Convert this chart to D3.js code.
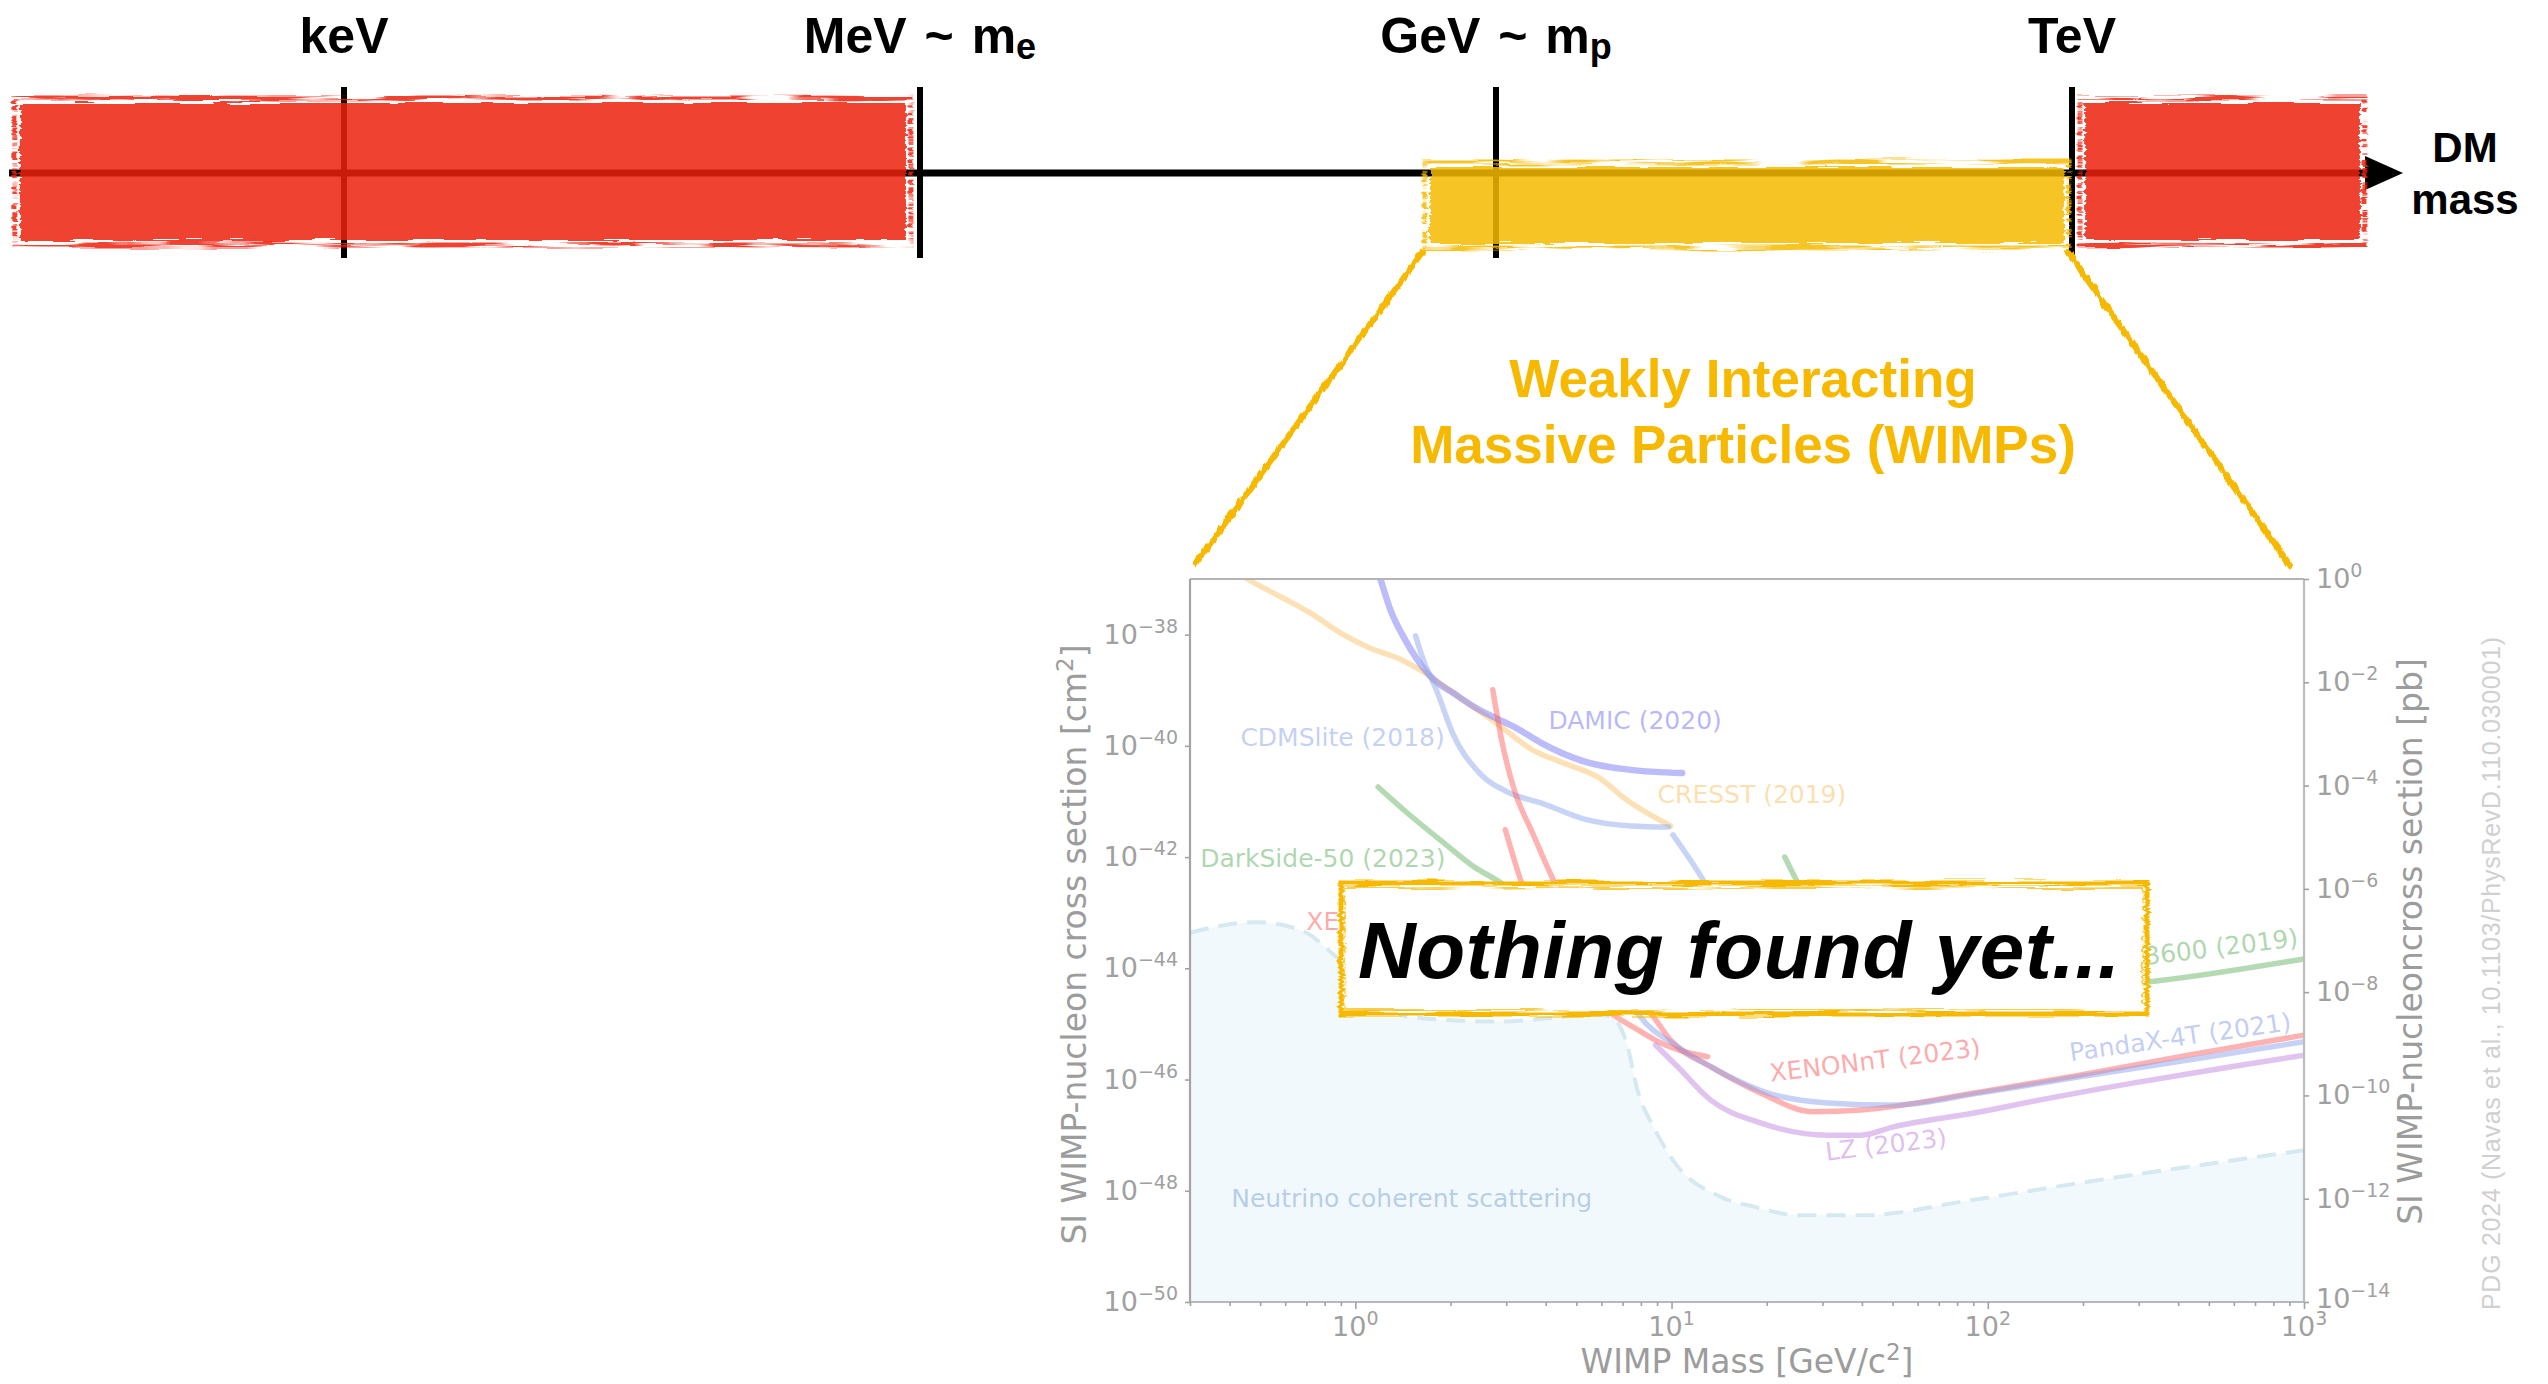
<!DOCTYPE html>
<html lang="en">
<head>
<meta charset="UTF-8">
<title>Dark matter mass range and WIMP limits</title>
<script src="https://d3js.org/d3.v7.min.js"></script>
<style>
    body { margin: 0; background: #fff; }
    svg { display: block; }
    .bold { font-family: "Liberation Sans", Arial, Helvetica, sans-serif; font-weight: bold; }
    .plain { font-family: "Liberation Sans", Arial, Helvetica, sans-serif; }
    .mpl { font-family: "DejaVu Sans", sans-serif; }
</style>
</head>
<body>
<svg id="fig" width="2548" height="1384"></svg>
<script>
// ---------- data: energy bar (values in eV) ----------
const energyTicks = [
    { label: "keV", sub: null, ev: 1e3 },
    { label: "MeV ~ m", sub: "e", ev: 1e6 },
    { label: "GeV ~ m", sub: "p", ev: 1e9 },
    { label: "TeV", sub: null, ev: 1e12 }
];
const axisSpan = [18, 3.4e13];
const excludedRanges = [[20.5, 8.45e5], [1.17e12, 3.16e13]];
const wimpRange = [4.53e8, 9.1e11];

// ---------- data: WIMP limits, [mass GeV, sigma cm^2] ----------
const massTicks = [1, 10, 100, 1000];
const massMinor = [0.3, 0.4, 0.5, 0.6, 0.7, 0.8, 0.9, 2, 3, 4, 5, 6, 7, 8, 9,
    20, 30, 40, 50, 60, 70, 80, 90, 200, 300, 400, 500, 600, 700, 800, 900];
const sigmaTicks = [-50, -48, -46, -44, -42, -40, -38];
const pbTicks = [-14, -12, -10, -8, -6, -4, -2, 0];

const cresst = [[0.40, 1.58e-37], [0.458, 9.8e-38], [0.58, 4.8e-38], [0.72, 2.45e-38], [0.916, 1.0e-38],
    [1.11, 5.75e-39], [1.36, 3.8e-39], [1.64, 2.14e-39], [2.15, 7.24e-40], [2.79, 2.57e-40],
    [3.63, 8.5e-41], [4.55, 4.9e-41], [5.92, 2.63e-41], [7.2, 1.07e-41], [9.93, 3.63e-42]];
const damic = [[1.17, 1.58e-37], [1.2, 1.0e-37], [1.29, 2.82e-38], [1.42, 9.1e-39], [1.57, 3.55e-39],
    [1.77, 1.55e-39], [2.04, 8.9e-40], [2.38, 5.0e-40], [3.30, 1.95e-40], [3.88, 1.12e-40],
    [5.38, 5.1e-41], [7.42, 3.7e-41], [10.8, 3.24e-41]];
const cdmslite = [[1.55, 9.5e-39], [1.64, 3.55e-39], [1.82, 8.9e-40], [2.03, 1.7e-40], [2.47, 3.24e-41],
    [3.09, 1.41e-41], [3.88, 9.3e-42], [5.38, 4.7e-42], [7.42, 3.63e-42], [9.78, 3.47e-42]];
const supercdms = [[10.1, 2.5e-42], [12.7, 3.55e-43], [15, 6.3e-44], [18, 1.58e-44]];
const darkside = [[1.18, 1.82e-41], [1.46, 6.2e-42], [1.90, 1.82e-42], [2.38, 6.6e-43], [2.79, 3.9e-43],
    [3.5, 1.78e-43], [5, 6.3e-44], [7, 3.16e-44]];
const xenon1t = [[2.98, 3.1e-42], [3.35, 3.55e-43], [4.2, 2.5e-44], [5.3, 3.98e-45], [6.41, 1.58e-45],
    [7.8, 7.9e-46], [9.23, 4.57e-46], [11, 3.16e-46], [13.0, 2.57e-46]];
const xenonnt = [[2.72, 1.02e-39], [2.9, 1.29e-40], [3.18, 1.62e-41], [3.63, 2.75e-42], [4.26, 3.55e-43],
    [5.5, 3.16e-44], [7, 5.0e-45], [8.58, 1.58e-45], [9.93, 5.1e-46], [13.3, 1.7e-46], [19.1, 5.75e-47],
    [28.1, 2.63e-47], [39.6, 2.82e-47], [95, 6.0e-47], [195, 1.2e-46], [430, 2.75e-46], [1000, 6.3e-46]];
const pandax = [[5.2, 2.5e-43], [6.3, 1.58e-44], [7.8, 1.58e-45], [10.45, 3.9e-46], [13.3, 1.7e-46],
    [20.1, 5.75e-47], [31.2, 3.8e-47], [50.4, 3.47e-47], [95, 5.75e-47], [195, 1.12e-46],
    [430, 2.24e-46], [1000, 4.8e-46]];
const lz = [[8.9, 4.17e-46], [10.45, 1.7e-46], [13.3, 4.27e-47], [19.1, 1.66e-47], [31.2, 1.0e-47],
    [39.6, 1.0e-47], [50.4, 1.41e-47], [95, 2.63e-47], [131, 3.8e-47], [290, 8.7e-47],
    [637, 1.82e-46], [1000, 2.75e-46]];
const deap = [[22.8, 1.0e-42], [25.0, 3.55e-43], [30, 6.3e-44], [40, 1.58e-44], [60, 6.3e-45],
    [100, 3.98e-45], [200, 4.5e-45], [326, 5.75e-45], [1000, 1.48e-44]];
const neutrinoFloor = [[0.30, 4.37e-44], [0.483, 6.76e-44], [0.67, 4.9e-44], [0.87, 1.62e-44],
    [1.12, 4.07e-45], [1.46, 1.35e-45], [2.79, 1.1e-45], [5.92, 1.45e-45], [6.41, 1.35e-45],
    [7.26, 3.9e-46], [7.8, 6.46e-47], [8.77, 1.41e-47], [10.1, 3.55e-48], [14.3, 7.76e-49],
    [18.3, 5.13e-49], [25.1, 3.63e-49], [40.2, 3.63e-49], [88.4, 6.76e-49], [195, 1.38e-48],
    [430, 2.69e-48], [1000, 5.37e-48]];

// label anchor points in data units
const curveLabels = [
    { text: "DAMIC (2020)", key: "damic", at: [4.08, 2.0e-40], rot: 0, anchor: "start" },
    { text: "CDMSlite (2018)", key: "cdmslite", at: [0.433, 1.0e-40], rot: 0, anchor: "start" },
    { text: "CRESST (2019)", key: "cresst", at: [9.03, 9.4e-42], rot: 0, anchor: "start" },
    { text: "DarkSide-50 (2023)", key: "darkside", at: [0.323, 6.6e-43], rot: 0, anchor: "start" },
    { text: "XENON1T (2019)", key: "xenon1t", at: [0.70, 4.9e-44], rot: 0, anchor: "start" },
    { text: "XENONnT (2023)", key: "xenonnt", at: [20.6, 9.1e-47], rot: -7, anchor: "start" },
    { text: "PandaX-4T (2021)", key: "pandax", at: [183, 2.14e-46], rot: -8, anchor: "start" },
    { text: "LZ (2023)", key: "lz", at: [30.9, 3.47e-48], rot: -7, anchor: "start" },
    { text: "DEAP-3600 (2019)", key: "deap", at: [964, 2.5e-44], rot: -7, anchor: "end" },
    { text: "Neutrino coherent scattering", key: "nu", at: [0.405, 5.1e-49], rot: 0, anchor: "start" }
];

// ---------- styles ----------
const series = { cresst, damic, cdmslite, supercdms, darkside, xenon1t, xenonnt, pandax, lz, deap };
const styles = {
    cresst:    { color: "#fbbd5e", alpha: 0.45, width: 5.5 },
    damic:     { color: "#7a7af5", alpha: 0.5, width: 6.5 },
    cdmslite:  { color: "#91a9eb", alpha: 0.5, width: 5.5 },
    supercdms: { color: "#91a9eb", alpha: 0.5, width: 5.5 },
    darkside:  { color: "#69b569", alpha: 0.5, width: 5.5 },
    xenon1t:   { color: "#ff5555", alpha: 0.45, width: 5.5 },
    xenonnt:   { color: "#ff5555", alpha: 0.45, width: 5.5 },
    pandax:    { color: "#8fa3ec", alpha: 0.5, width: 5.5 },
    lz:        { color: "#c387e1", alpha: 0.5, width: 5.5 },
    deap:      { color: "#69b569", alpha: 0.5, width: 5.5 },
    nu:        { color: "#7ea3d2", alpha: 0.5 }
};
const RED = "rgb(238,35,16)", YELLOW = "rgb(246,186,2)", GOLD = "#f7b900";
const TICK_GREY = "#a2a2a2";

const svg = d3.select("#fig");
const defs = svg.append("defs");

// rough brush edges
const rough = defs.append("filter").attr("id", "rough")
    .attr("x", "-5%").attr("y", "-20%").attr("width", "110%").attr("height", "140%");
rough.append("feTurbulence").attr("type", "fractalNoise").attr("baseFrequency", "0.02 0.35")
    .attr("numOctaves", 2).attr("seed", 4).attr("result", "n");
rough.append("feDisplacementMap").attr("in", "SourceGraphic").attr("in2", "n").attr("scale", 7)
    .attr("xChannelSelector", "R").attr("yChannelSelector", "G");

const brush = defs.append("filter").attr("id", "brush")
    .attr("x", "-5%").attr("y", "-20%").attr("width", "110%").attr("height", "140%");
brush.append("feTurbulence").attr("type", "fractalNoise").attr("baseFrequency", "0.012 0.25")
    .attr("numOctaves", 2).attr("seed", 9).attr("result", "t");
brush.append("feColorMatrix").attr("in", "t").attr("type", "matrix")
    .attr("values", "0 0 0 0 0  0 0 0 0 0  0 0 0 0 0  7 0 0 0 -2.8").attr("result", "m");
brush.append("feComposite").attr("in", "SourceGraphic").attr("in2", "m").attr("operator", "in").attr("result", "c");
brush.append("feDisplacementMap").attr("in", "c").attr("in2", "t").attr("scale", 6)
    .attr("xChannelSelector", "R").attr("yChannelSelector", "G");

const scratch = defs.append("filter").attr("id", "scratch")
    .attr("x", "-20%").attr("y", "-5%").attr("width", "140%").attr("height", "110%");
scratch.append("feTurbulence").attr("type", "fractalNoise").attr("baseFrequency", "0.25 0.04")
    .attr("numOctaves", 2).attr("seed", 2).attr("result", "t");
scratch.append("feDisplacementMap").attr("in", "SourceGraphic").attr("in2", "t").attr("scale", 5)
    .attr("xChannelSelector", "R").attr("yChannelSelector", "G");

// ---------- top: DM mass axis ----------
const eScale = d3.scaleLog().domain([1e3, 1e12]).range([344, 2072]);
const barY = 173;

const bar = svg.append("g");
bar.append("line")
    .attr("x1", eScale(axisSpan[0])).attr("x2", eScale(axisSpan[1]))
    .attr("y1", barY).attr("y2", barY)
    .attr("stroke", "#000").attr("stroke-width", 7);
const tipX = eScale(axisSpan[1]) + 37;
bar.append("path")
    .attr("d", `M${eScale(axisSpan[1]) - 1},${barY - 17}L${tipX},${barY}L${eScale(axisSpan[1]) - 1},${barY + 17}Z`)
    .attr("fill", "#000");
bar.selectAll("line.tick").data(energyTicks).enter().append("line")
    .attr("class", "tick")
    .attr("x1", d => eScale(d.ev)).attr("x2", d => eScale(d.ev))
    .attr("y1", 87).attr("y2", 258)
    .attr("stroke", "#000").attr("stroke-width", 6);

function brushBox(g, x0, x1, y0, y1, color) {
    g.append("rect")
        .attr("x", x0 - 5).attr("y", y0 - 5).attr("width", x1 - x0 + 10).attr("height", y1 - y0 + 10)
        .attr("fill", "none").attr("stroke", color).attr("stroke-width", 5)
        .attr("opacity", 0.85).attr("filter", "url(#brush)");
    g.append("rect")
        .attr("x", x0).attr("y", y0).attr("width", x1 - x0).attr("height", y1 - y0)
        .attr("fill", color).attr("opacity", 0.85).attr("filter", "url(#rough)");
}
excludedRanges.forEach(r => brushBox(bar, eScale(r[0]), eScale(r[1]), 103, 240, RED));
brushBox(bar, eScale(wimpRange[0]), eScale(wimpRange[1]), 167, 243, YELLOW);

const tl = bar.selectAll("text.elabel").data(energyTicks).enter().append("text")
    .attr("class", "elabel bold")
    .attr("x", d => eScale(d.ev)).attr("y", 53)
    .attr("text-anchor", "middle").attr("font-size", 50).attr("word-spacing", 4).attr("fill", "#000");
tl.append("tspan").text(d => d.label);
tl.filter(d => d.sub).append("tspan").attr("font-size", 36).attr("dy", 6).text(d => d.sub);

bar.append("text").attr("class", "bold").attr("x", 2465).attr("y", 162)
    .attr("text-anchor", "middle").attr("font-size", 42).text("DM");
bar.append("text").attr("class", "bold").attr("x", 2465).attr("y", 214)
    .attr("text-anchor", "middle").attr("font-size", 42).text("mass");

// ---------- WIMP chart ----------
const plot = { left: 1190, right: 2304, top: 579, bottom: 1302 };
const x = d3.scaleLog().domain([0.3, 1000]).range([plot.left, plot.right]);
const y = d3.scaleLog().domain([1e-50, 1e-37]).range([plot.bottom, plot.top]);
const yPb = d3.scaleLog().domain([1e-14, 1]).range([plot.bottom, plot.top]);

// zoom lines from the WIMP band down to the chart
const zoomLines = [
    [[eScale(wimpRange[0]) - 6, 250], [plot.left + 4, plot.top - 13]],
    [[eScale(wimpRange[1]) + 2, 250], [plot.right - 12, plot.top - 11]]
];
svg.append("g").selectAll("path").data(zoomLines).enter().append("path")
    .attr("d", d => d3.line()(d))
    .attr("stroke", GOLD).attr("stroke-width", 6).attr("fill", "none")
    .attr("filter", "url(#scratch)");

const wimpText = svg.append("text").attr("class", "bold")
    .attr("text-anchor", "middle").attr("font-size", 53).attr("fill", GOLD);
wimpText.append("tspan").attr("x", 1743).attr("y", 397).text("Weakly Interacting");
wimpText.append("tspan").attr("x", 1743).attr("y", 463).text("Massive Particles (WIMPs)");

defs.append("clipPath").attr("id", "plotclip").append("rect")
    .attr("x", plot.left).attr("y", plot.top)
    .attr("width", plot.right - plot.left).attr("height", plot.bottom - plot.top);

const chart = svg.append("g");
const inner = chart.append("g").attr("clip-path", "url(#plotclip)");

// neutrino fog
inner.append("path")
    .datum(neutrinoFloor)
    .attr("d", d3.area().x(d => x(d[0])).y0(plot.bottom).y1(d => y(d[1])).curve(d3.curveMonotoneX))
    .attr("fill", "#f1f9fc");
inner.append("path")
    .datum(neutrinoFloor)
    .attr("d", d3.line().x(d => x(d[0])).y(d => y(d[1])).curve(d3.curveMonotoneX))
    .attr("fill", "none").attr("stroke", "#d6e9f1").attr("stroke-width", 4)
    .attr("stroke-dasharray", "19,10");

const line = d3.line().x(d => x(d[0])).y(d => y(d[1])).curve(d3.curveMonotoneX);
Object.keys(series).forEach(k => {
    inner.append("path").datum(series[k])
        .attr("d", line)
        .attr("fill", "none")
        .attr("stroke", styles[k].color)
        .attr("stroke-opacity", styles[k].alpha)
        .attr("stroke-width", styles[k].width)
        .attr("stroke-linecap", "round")
        .attr("stroke-linejoin", "round");
});

chart.append("g").selectAll("text").data(curveLabels).enter().append("text")
    .attr("class", "mpl")
    .attr("transform", d => `translate(${x(d.at[0])},${y(d.at[1])}) rotate(${d.rot})`)
    .attr("text-anchor", d => d.anchor)
    .attr("font-size", 25)
    .attr("fill", d => styles[d.key].color)
    .attr("fill-opacity", d => d.key === "nu" ? 0.5 : styles[d.key].alpha + 0.05)
    .text(d => d.text);

// spines
const spines = [
    [plot.left, plot.top, plot.right, plot.top, "#b4b4b4"],
    [plot.right, plot.top, plot.right, plot.bottom, "#bdbdbd"],
    [plot.left, plot.bottom, plot.right, plot.bottom, "#b8b8b8"],
    [plot.left, plot.top, plot.left, plot.bottom, "#a4a4a4"]
];
chart.append("g").selectAll("line").data(spines).enter().append("line")
    .attr("x1", d => d[0]).attr("y1", d => d[1]).attr("x2", d => d[2]).attr("y2", d => d[3])
    .attr("stroke", d => d[4]).attr("stroke-width", 2.2);

function styleAxis(g) {
    g.select(".domain").remove();
    g.selectAll(".tick line").attr("stroke", TICK_GREY).attr("stroke-width", 1.6);
}
chart.append("g").attr("transform", `translate(0,${plot.bottom})`)
    .call(d3.axisBottom(x).tickValues(massTicks).tickSize(7).tickFormat("")).call(styleAxis);
chart.append("g").attr("transform", `translate(0,${plot.bottom})`)
    .call(d3.axisBottom(x).tickValues(massMinor).tickSize(4).tickFormat("")).call(styleAxis);
chart.append("g").attr("transform", `translate(${plot.left},0)`)
    .call(d3.axisLeft(y).tickValues(sigmaTicks.map(e => Math.pow(10, e))).tickSize(5).tickFormat("")).call(styleAxis);
chart.append("g").attr("transform", `translate(${plot.right},0)`)
    .call(d3.axisRight(yPb).tickValues(pbTicks.map(e => Math.pow(10, e))).tickSize(5).tickFormat("")).call(styleAxis);

function pow10(sel, e) {
    sel.append("tspan").text("10");
    sel.append("tspan").attr("font-size", 19).attr("dy", -11).text(String(e).replace("-", "\u2212"));
}
const labelG = chart.append("g").attr("class", "mpl").attr("fill", "#a0a0a0").attr("font-size", 27);
massTicks.forEach(v => {
    labelG.append("text").attr("x", x(v)).attr("y", plot.bottom + 34)
        .attr("text-anchor", "middle").call(pow10, Math.round(Math.log10(v)));
});
sigmaTicks.forEach(e => {
    labelG.append("text").attr("x", plot.left - 12).attr("y", y(Math.pow(10, e)) + 9)
        .attr("text-anchor", "end").call(pow10, e);
});
pbTicks.forEach(e => {
    labelG.append("text").attr("x", plot.right + 12).attr("y", yPb(Math.pow(10, e)) + (e === -14 ? 6 : 9))
        .attr("text-anchor", "start").call(pow10, e);
});

const axisTitle = chart.append("g").attr("class", "mpl").attr("fill", "#9c9c9c").attr("font-size", 33);
const xt = axisTitle.append("text").attr("x", (plot.left + plot.right) / 2).attr("y", 1373)
    .attr("text-anchor", "middle");
xt.append("tspan").text("WIMP Mass [GeV/c");
xt.append("tspan").attr("font-size", 23).attr("dy", -13).text("2");
xt.append("tspan").attr("dy", 13).text("]");
const ylt = axisTitle.append("text").attr("transform", `translate(1086,${(plot.top + plot.bottom) / 2 + 4}) rotate(-90)`)
    .attr("text-anchor", "middle");
ylt.append("tspan").text("SI WIMP-nucleon cross section [cm");
ylt.append("tspan").attr("font-size", 23).attr("dy", -13).text("2");
ylt.append("tspan").attr("dy", 13).text("]");
axisTitle.append("text").attr("transform", `translate(2422,${(plot.top + plot.bottom) / 2 + 1}) rotate(-90)`)
    .attr("text-anchor", "middle").text("SI WIMP-nucleoncross section [pb]");

svg.append("text").attr("class", "plain")
    .attr("transform", "translate(2500,1310) rotate(-90)")
    .attr("font-size", 25).attr("fill", "#d0d0d0")
    .attr("textLength", 673).attr("lengthAdjust", "spacing")
    .text("PDG 2024 (Navas et al., 10.1103/PhysRevD.110.030001)");

// ---------- "Nothing found yet..." box ----------
const box = { x0: 1341, x1: 2147, y0: 883, y1: 1014 };
const note = svg.append("g");
note.append("rect")
    .attr("x", box.x0).attr("y", box.y0).attr("width", box.x1 - box.x0).attr("height", box.y1 - box.y0)
    .attr("fill", "#fff");
note.append("rect")
    .attr("x", box.x0).attr("y", box.y0).attr("width", box.x1 - box.x0).attr("height", box.y1 - box.y0)
    .attr("fill", "none").attr("stroke", GOLD).attr("stroke-width", 5).attr("filter", "url(#rough)");
note.append("rect")
    .attr("x", box.x0 + 4).attr("y", box.y0 + 5).attr("width", box.x1 - box.x0 - 8).attr("height", box.y1 - box.y0 - 9)
    .attr("fill", "none").attr("stroke", GOLD).attr("stroke-width", 2).attr("opacity", 0.7).attr("filter", "url(#brush)");
note.append("text").attr("class", "bold")
    .attr("x", 1358).attr("y", 978)
    .attr("font-size", 80).attr("font-style", "italic").attr("fill", "#000")
    .attr("textLength", 762).attr("lengthAdjust", "spacing")
    .text("Nothing found yet...");
</script>
</body>
</html>
